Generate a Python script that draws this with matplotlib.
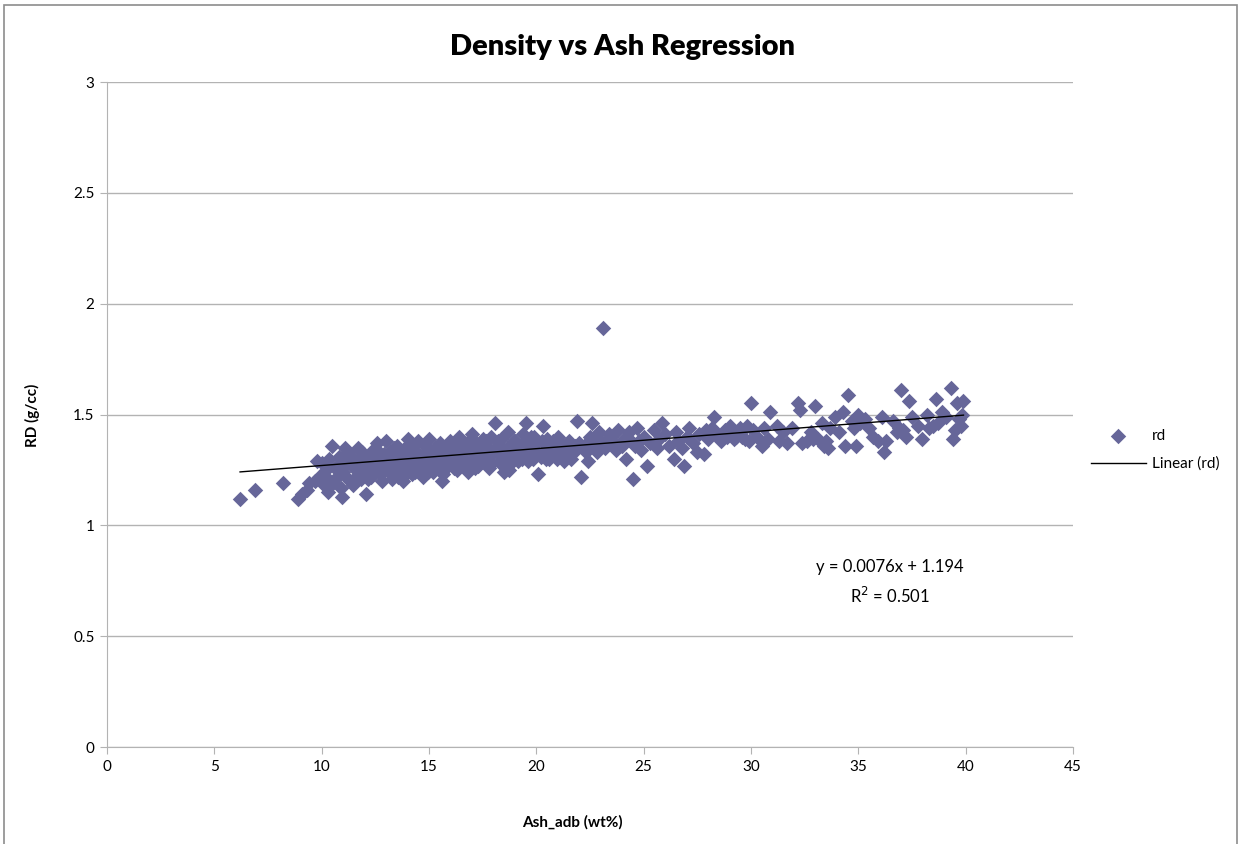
import matplotlib.pyplot as plt
from matplotlib.patches import Rectangle

plt.rcParams["font.family"] = ["Lato", "DejaVu Sans"]

# ash content (wt%, air-dried basis) and relative density for each sample
ash_adb = [
    6.2, 6.9, 8.2, 8.9, 9.1, 9.3, 9.4, 9.7, 9.8, 9.9,
    10.0, 10.1, 10.2, 10.3, 10.4, 10.5, 10.6, 10.7, 10.8, 10.9, 10.95,
    10.15, 10.55, 10.75, 10.35,
    11.0, 11.1, 11.2, 11.3, 11.4, 11.5, 11.6, 11.7, 11.8, 11.9, 11.95,
    11.15, 11.45, 11.65, 11.25, 11.85,
    12.06, 12.1, 12.2, 12.3, 12.4, 12.5, 12.6, 12.7, 12.8, 12.9, 12.95, 12.55, 12.75,
    12.15, 12.35, 12.45, 12.65, 12.85,
    13.0, 13.1, 13.2, 13.3, 13.4, 13.5, 13.6, 13.7, 13.8, 13.9, 13.45, 13.15, 13.75,
    13.05, 13.25, 13.35, 13.55, 13.65, 13.85, 13.95,
    14.0, 14.1, 14.2, 14.3, 14.4, 14.5, 14.6, 14.7, 14.8, 14.9, 14.25, 14.65, 14.85,
    14.05, 14.15, 14.35, 14.45, 14.55, 14.75, 14.95,
    15.0, 15.1, 15.2, 15.3, 15.4, 15.5, 15.6, 15.7, 15.8, 15.9, 15.35, 15.65,
    15.05, 15.15, 15.25, 15.45, 15.55, 15.75, 15.85, 15.95,
    16.0, 16.1, 16.2, 16.3, 16.4, 16.5, 16.6, 16.7, 16.8, 16.9, 16.45,
    16.05, 16.15, 16.25, 16.35, 16.55, 16.65, 16.75, 16.85, 16.95,
    17.0, 17.1, 17.2, 17.3, 17.4, 17.5, 17.6, 17.7, 17.8, 17.9, 17.55,
    17.05, 17.15, 17.25, 17.35, 17.45, 17.65, 17.75, 17.85, 17.95,
    18.07, 18.1, 18.2, 18.3, 18.4, 18.5, 18.6, 18.7, 18.8, 18.9, 18.45,
    18.15, 18.25, 18.35, 18.55, 18.65, 18.75, 18.85, 18.95,
    19.0, 19.2, 19.4, 19.5, 19.6, 19.7, 19.8, 19.9, 19.3,
    19.1, 19.15, 19.35, 19.45, 19.55, 19.75, 19.85, 19.95,
    20.1, 20.0, 20.2, 20.3, 20.4, 20.5, 20.6, 20.7, 20.9,
    20.05, 20.25, 20.45, 20.55, 20.8, 20.95,
    21.0, 21.2, 21.4, 21.5, 21.7, 21.9, 21.8, 21.3,
    21.1, 21.25, 21.45, 21.6, 21.85,
    22.1, 22.0, 22.3, 22.5, 22.6, 22.7, 22.9, 22.4,
    22.2, 22.45, 22.8, 22.85,
    23.1, 23.0, 23.2, 23.4, 23.6, 23.8, 23.9, 23.3, 23.5, 23.7,
    24.1, 24.2, 24.3, 24.5, 24.6, 24.7, 24.8, 24.9, 24.0, 24.4,
    25.15, 25.0, 25.3, 25.5, 25.6, 25.85, 25.7,
    26.0, 26.2, 26.4, 26.5, 26.6, 26.9, 26.8,
    27.0, 27.1, 27.3, 27.5, 27.6, 27.8, 27.9,
    28.0, 28.3, 28.2, 28.4, 28.6, 28.8, 28.9, 28.1, 28.5, 28.7,
    29.0, 29.2, 29.4, 29.6, 29.8, 29.9, 29.1, 29.3, 29.5, 29.7,
    30.0, 30.1, 30.3, 30.5, 30.6, 30.9, 30.8,
    31.2, 31.3, 31.5, 31.7, 31.9,
    32.2, 32.3, 32.4, 32.6, 32.8, 32.9,
    33.0, 33.1, 33.3, 33.4, 33.5, 33.6, 33.7, 33.9,
    34.1, 34.3, 34.4, 34.5, 34.7, 34.9, 34.8,
    35.0, 35.1, 35.3, 35.5, 35.7, 35.9,
    36.2, 36.1, 36.3, 36.6, 36.8, 36.9,
    37.0, 37.1, 37.2, 37.35, 37.5, 37.95, 37.8,
    38.2, 38.3, 38.6, 38.7, 38.9, 38.5,
    39.1, 39.3, 39.4, 39.5, 39.6, 39.7, 39.8, 39.9, 39.85,
]
rd = [
    1.12, 1.16, 1.19, 1.12, 1.14, 1.16, 1.19, 1.20, 1.29, 1.22,
    1.28, 1.18, 1.25, 1.15, 1.20, 1.36, 1.26, 1.22, 1.31, 1.17, 1.13,
    1.22, 1.19, 1.27, 1.30,
    1.24, 1.35, 1.28, 1.20, 1.31, 1.26, 1.22, 1.35, 1.29, 1.33, 1.24,
    1.22, 1.18, 1.29, 1.33, 1.21,
    1.14, 1.27, 1.31, 1.22, 1.34, 1.26, 1.37, 1.29, 1.20, 1.32, 1.25, 1.30, 1.23,
    1.21, 1.29, 1.24, 1.33, 1.28,
    1.38, 1.27, 1.33, 1.21, 1.30, 1.36, 1.25, 1.31, 1.20, 1.35, 1.28, 1.24, 1.28,
    1.31, 1.27, 1.35, 1.22, 1.33, 1.26, 1.23,
    1.39, 1.29, 1.23, 1.34, 1.27, 1.38, 1.31, 1.22, 1.36, 1.28, 1.31, 1.25, 1.33,
    1.33, 1.36, 1.24, 1.32, 1.28, 1.30, 1.24,
    1.39, 1.30, 1.24, 1.35, 1.27, 1.37, 1.20, 1.32, 1.26, 1.34, 1.29, 1.23,
    1.34, 1.27, 1.31, 1.33, 1.25, 1.29, 1.36, 1.30,
    1.38, 1.29, 1.33, 1.25, 1.40, 1.31, 1.27, 1.36, 1.24, 1.34, 1.35,
    1.32, 1.26, 1.37, 1.29, 1.34, 1.30, 1.28, 1.38, 1.27,
    1.41, 1.30, 1.37, 1.27, 1.33, 1.39, 1.29, 1.35, 1.26, 1.40, 1.32,
    1.35, 1.26, 1.32, 1.36, 1.29, 1.38, 1.31, 1.34, 1.28,
    1.46, 1.33, 1.38, 1.28, 1.35, 1.24, 1.31, 1.42, 1.36, 1.29, 1.30,
    1.36, 1.32, 1.39, 1.27, 1.35, 1.25, 1.32, 1.38,
    1.38, 1.32, 1.41, 1.46, 1.29, 1.36, 1.33, 1.40, 1.35,
    1.35, 1.29, 1.30, 1.37, 1.33, 1.40, 1.30, 1.34,
    1.23, 1.37, 1.31, 1.45, 1.34, 1.39, 1.30, 1.36, 1.33,
    1.33, 1.38, 1.30, 1.35, 1.38, 1.30,
    1.40, 1.35, 1.31, 1.38, 1.33, 1.47, 1.36, 1.29,
    1.37, 1.33, 1.36, 1.30, 1.34,
    1.22, 1.37, 1.33, 1.40, 1.46, 1.35, 1.42, 1.29,
    1.35, 1.38, 1.37, 1.33,
    1.89, 1.38, 1.35, 1.41, 1.37, 1.43, 1.36, 1.38, 1.40, 1.34,
    1.39, 1.30, 1.42, 1.21, 1.36, 1.44, 1.38, 1.34, 1.36, 1.38,
    1.27, 1.40, 1.37, 1.43, 1.35, 1.46, 1.39,
    1.41, 1.36, 1.30, 1.42, 1.38, 1.27, 1.35,
    1.40, 1.44, 1.37, 1.33, 1.41, 1.32, 1.43,
    1.39, 1.49, 1.44, 1.41, 1.38, 1.43, 1.40, 1.42, 1.40, 1.41,
    1.45, 1.39, 1.42, 1.40, 1.45, 1.38, 1.42, 1.40, 1.44, 1.39,
    1.55, 1.43, 1.40, 1.36, 1.44, 1.51, 1.39,
    1.45, 1.38, 1.42, 1.37, 1.44,
    1.55, 1.52, 1.37, 1.38, 1.42, 1.39,
    1.54, 1.39, 1.46, 1.36, 1.38, 1.35, 1.44, 1.49,
    1.42, 1.51, 1.36, 1.59, 1.47, 1.36, 1.44,
    1.50, 1.46, 1.48, 1.44, 1.40, 1.38,
    1.33, 1.49, 1.38, 1.47, 1.42, 1.44,
    1.61, 1.43, 1.40, 1.56, 1.49, 1.39, 1.45,
    1.50, 1.44, 1.57, 1.46, 1.51, 1.45,
    1.49, 1.62, 1.39, 1.43, 1.55, 1.48, 1.45, 1.56, 1.50,
]

# fitted trend reported on the chart
slope = 0.0076
intercept = 1.194
r_squared = 0.501

x_ticks = [0, 5, 10, 15, 20, 25, 30, 35, 40, 45]
y_ticks = [0, 0.5, 1, 1.5, 2, 2.5, 3]

MARKER_C = "#666699"
GRID_C = "#b3b3b3"

fig = plt.figure(figsize=(12.41, 8.44), dpi=100)
ax = fig.add_axes([0.0862, 0.1149, 0.7784, 0.7879])

ax.scatter(ash_adb, rd, marker="D", s=62, color=MARKER_C, linewidths=0,
           zorder=3, label="rd")

x0, x1 = min(ash_adb), max(ash_adb)
ax.plot([x0, x1], [slope * x0 + intercept, slope * x1 + intercept],
        color="black", linewidth=1.0, zorder=4, label="Linear (rd)")

ax.set_xlim(0, 45)
ax.set_ylim(0, 3)
ax.set_xticks(x_ticks)
ax.set_yticks(y_ticks)
ax.set_xticklabels([str(t) for t in x_ticks])
ax.set_yticklabels([f"{t:g}" for t in y_ticks])
ax.tick_params(labelsize=11, length=5, color=GRID_C, direction="out", pad=4)

ax.grid(axis="y", color=GRID_C, linewidth=1.0, zorder=0)
ax.set_axisbelow(True)
for side in ("top", "right"):
    ax.spines[side].set_visible(False)
for side in ("left", "bottom"):
    ax.spines[side].set_color(GRID_C)

fig.text(0.502, 0.944, "Density vs Ash Regression", ha="center", va="center",
         fontsize=21, fontweight="heavy")
fig.text(0.461, 0.026, "Ash_adb (wt%)", ha="center", va="center",
         fontsize=11, fontweight="bold")
fig.text(0.026, 0.508, "RD (g/cc)", ha="center", va="center",
         fontsize=11, fontweight="bold", rotation=90)

ax.text(0.717, 0.328, f"y = {slope}x + {intercept}", transform=fig.transFigure,
        ha="center", va="center", fontsize=12)
ax.text(0.717, 0.294, f"R$^2$ = {r_squared}", transform=fig.transFigure,
        ha="center", va="center", fontsize=12)

fig.legend(loc="center left", bbox_to_anchor=(0.868, 0.467), frameon=False,
           fontsize=11, handlelength=3.6, handletextpad=0.4, labelspacing=0.9,
           scatterpoints=1)

# outer chart border
fig.patches.append(Rectangle((0.003, -0.05), 0.994, 1.044, transform=fig.transFigure,
                             fill=False, edgecolor="#8c8c8c", linewidth=1.2))

fig.savefig("out.png", dpi=100)
